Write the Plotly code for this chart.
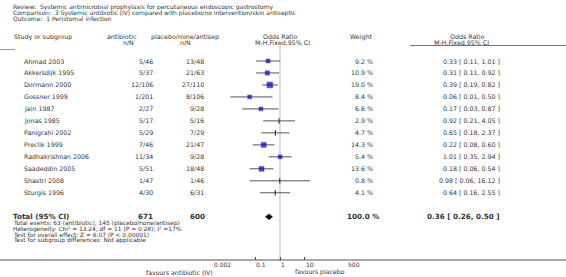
import math
import plotly.graph_objects as go

# ---------------- data ----------------
studies = ["Ahmad 2003", "Akkersdijk 1995", "Dormann 2000", "Gossner 1999", "Jain 1987",
           "Jonas 1985", "Panigrahi 2002", "Preclik 1999", "Radhakrishnan 2006",
           "Saadeddin 2005", "Shastri 2008", "Sturgis 1996"]
ab_events = [5, 5, 12, 1, 2, 5, 5, 7, 11, 5, 1, 4]
ab_total = [46, 37, 106, 201, 27, 17, 29, 46, 34, 51, 47, 30]
pl_events = [13, 21, 27, 8, 9, 5, 7, 21, 9, 18, 1, 6]
pl_total = [48, 63, 110, 106, 28, 16, 29, 47, 28, 48, 46, 31]
weights = [9.2, 10.9, 19.0, 8.4, 6.6, 2.9, 4.7, 14.3, 5.4, 13.6, 0.8, 4.1]
odds = [0.33, 0.31, 0.39, 0.06, 0.17, 0.92, 0.65, 0.22, 1.01, 0.18, 0.98, 0.64]
ci_lo = [0.11, 0.11, 0.19, 0.01, 0.03, 0.21, 0.18, 0.08, 0.35, 0.06, 0.06, 0.16]
ci_hi = [1.01, 0.92, 0.82, 0.50, 0.87, 4.05, 2.37, 0.60, 2.94, 0.54, 16.12, 2.55]
total_ab = 671
total_pl = 600
total_w = 100.0
total_or, total_lo, total_hi = 0.36, 0.26, 0.50
axis_ticks = [0.002, 0.1, 1, 10, 500]
axis_tick_labels = ["0.002", "0.1", "1", "10", "500"]

title_lines = ["Review:\u00a0\u00a0Systemic antimicrobial prophylaxis for percutaneous endoscopic gastrostomy",
               "Comparison:\u00a0\u00a03 Systemic antibiotic (IV) compared with placebo/no intervention/skin antiseptic",
               "Outcome:\u00a0\u00a01 Peristomal infection"]
summary_lines = ["Total events: 63 (antibiotic), 145 (placebo/none/antisep)",
                 "Heterogeneity: Chi\u00b2 = 13.24, df = 11 (P = 0.28); I\u00b2 =17%",
                 "Test for overall effect: Z = 6.07 (P < 0.00001)",
                 "Test for subgroup differences: Not applicable"]

# ---------------- layout helpers ----------------
W, H = 566, 277
FONT = "DejaVu Sans"
TXT = "#333333"
ROW0, PITCH = 61.0, 11.98


def px(x):
    return x / W


def py(y):
    return 1 - y / H


def row_of(ypix):
    return (ypix - ROW0) / PITCH


n = len(studies)
rows = list(range(n))
total_row = row_of(216.8)

fig = go.Figure()

# reference line at OR = 1
fig.add_trace(go.Scatter(x=[1, 1], y=[row_of(45.5), row_of(260)], mode="lines",
                         line=dict(color="#d4d4d4", width=1.6), hoverinfo="skip", showlegend=False))

# confidence interval lines
cx, cy = [], []
for i in rows:
    cx += [ci_lo[i], ci_hi[i], None]
    cy += [i, i, None]
fig.add_trace(go.Scatter(x=cx, y=cy, mode="lines", line=dict(color="#555555", width=1),
                         hoverinfo="skip", showlegend=False))

# squares (weight >= 5) and ticks for small weights
sq_i = [i for i in rows if weights[i] >= 5]
tk_i = [i for i in rows if weights[i] < 5]
fig.add_trace(go.Scatter(
    x=[odds[i] for i in sq_i], y=sq_i, mode="markers",
    marker=dict(symbol="square", color="#0000d0",
                size=[max(3.9, 5.8 * math.sqrt(weights[i] / 19.0)) for i in sq_i],
                line=dict(color="#000080", width=0.5)),
    hoverinfo="skip", showlegend=False))
fig.add_trace(go.Scatter(
    x=[odds[i] for i in tk_i], y=tk_i, mode="markers",
    marker=dict(symbol="line-ns", size=4, line=dict(color="#222222", width=1)),
    hoverinfo="skip", showlegend=False))

# total diamond
dh = 2.9 / PITCH
fig.add_trace(go.Scatter(
    x=[total_lo, total_or, total_hi, total_or, total_lo],
    y=[total_row, total_row - dh, total_row, total_row + dh, total_row],
    mode="lines", fill="toself", fillcolor="black", line=dict(color="black", width=0.5),
    hoverinfo="skip", showlegend=False))

ann = []


def text(x, y, s, anchor="left", size=6.3, bold=False, yref="paper", xref="paper", color=TXT):
    ann.append(dict(x=x, y=y, xref=xref, yref=yref, text=("<b>%s</b>" % s) if bold else s,
                    showarrow=False, xanchor=anchor, yanchor="middle", borderpad=0,
                    font=dict(family=FONT, size=size, color=color)))


# title block
for k, t in enumerate(title_lines):
    text(px(12), py(6.8 + 5.8 * k), t, size=6.0)

# column headers
hy1, hy2 = py(36.8), py(42.3)
text(px(13), hy1, "Study or subgroup")
text(px(122), hy1, "antibiotic", anchor="center")
text(px(128), hy2, "n/N", anchor="center")
text(px(185), hy1, "placebo/none/antisep", anchor="center")
text(px(185), hy2, "n/N", anchor="center")
text(px(280), hy1, "Odds Ratio", anchor="center")
text(px(282), hy2, "M-H,Fixed,95% CI", anchor="center")
text(px(373), hy1, "Weight", anchor="right")
text(px(467), hy1, "Odds Ratio", anchor="center")
text(px(461), hy2, "M-H,Fixed,95% CI", anchor="center")

# study rows
for i in rows:
    text(px(23), i, studies[i], yref="y")
    text(px(154), i, "%d/%d" % (ab_events[i], ab_total[i]), anchor="right", yref="y")
    text(px(205), i, "%d/%d" % (pl_events[i], pl_total[i]), anchor="right", yref="y")
    text(px(374), i, "%.1f %%" % weights[i], anchor="right", yref="y")
    text(px(501), i, "%.2f [ %.2f, %.2f ]" % (odds[i], ci_lo[i], ci_hi[i]), anchor="right", yref="y")

# total row
TS = 7.2
text(px(12), total_row, "Total (95% CI)", size=TS, bold=True, yref="y")
text(px(154), total_row, "%d" % total_ab, anchor="right", size=TS, bold=True, yref="y")
text(px(206), total_row, "%d" % total_pl, anchor="right", size=TS, bold=True, yref="y")
text(px(380), total_row, "%.1f %%" % total_w, anchor="right", size=TS, bold=True, yref="y")
text(px(501), total_row, "%.2f [ %.2f, %.2f ]" % (total_or, total_lo, total_hi),
     anchor="right", size=TS, bold=True, yref="y")

# summary lines
for k, t in enumerate(summary_lines):
    text(px(12), py(223.9 + 5.45 * k), t, size=5.9)

# tick labels (left aligned at tick)
for v, lab in zip(axis_ticks, axis_tick_labels):
    text(math.log10(v), py(264.5), lab, xref="x", size=6.0)

# favours labels
text(px(214), py(272), "favours antibiotic (IV)", anchor="right", size=6.2)
text(px(294), py(272), "favours placebo", anchor="left", size=6.2)

shapes = [
    dict(type="line", xref="paper", yref="paper", x0=0, x1=1, y0=py(260), y1=py(260),
         line=dict(color="#555555", width=1.2)),
    dict(type="line", xref="paper", yref="paper", x0=px(410), x1=1, y0=py(45.5), y1=py(45.5),
         line=dict(color="#777777", width=1)),
    dict(type="line", xref="paper", yref="paper", x0=0, x1=px(15), y0=py(49.5), y1=py(49.5),
         line=dict(color="#999999", width=1)),
]

fig.update_layout(
    width=W, height=H, margin=dict(l=0, r=0, t=0, b=0),
    paper_bgcolor="white", plot_bgcolor="white",
    annotations=ann, shapes=shapes, showlegend=False,
    xaxis=dict(type="log", range=[math.log10(0.002), math.log10(500)],
               domain=[px(213), px(347)], anchor="free", position=py(260),
               tickvals=axis_ticks, showticklabels=False, ticks="inside", ticklen=3,
               tickcolor="#444444", tickwidth=1, showgrid=False, zeroline=False, showline=False,
               fixedrange=True),
    yaxis=dict(range=[row_of(H), row_of(0)], domain=[0, 1], visible=False, fixedrange=True),
)

fig.write_html("out.html", config={"displayModeBar": False},
               post_script="document.body.style.margin='0';document.body.style.overflow='hidden';")
